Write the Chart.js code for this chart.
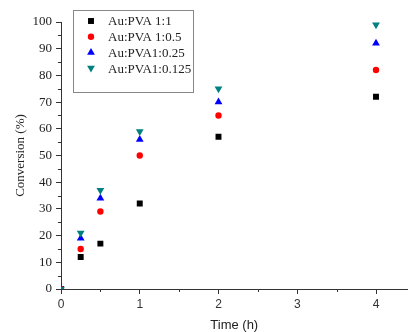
<!DOCTYPE html>
<html>
<head>
<meta charset="utf-8">
<script src="https://cdn.jsdelivr.net/npm/chart.js@4/dist/chart.umd.min.js"></script>
<style>
  html, body { margin: 0; padding: 0; background: #fff; }
  #wrap { width: 412px; height: 332px; }
</style>
</head>
<body>
<div id="wrap"><canvas id="c" width="412" height="332"></canvas></div>
<script>
// tiempos (h) y conversión (%) por muestra
const times = [0, 0.25, 0.5, 1, 2, 4];
const seriesNames = ['Au:PVA 1:1', 'Au:PVA 1:0.5', 'Au:PVA1:0.25', 'Au:PVA1:0.125'];
const pva1 = [0, 12, 17, 32, 57, 72];
const pva05 = [0, 15, 29, 50, 65, 82];
const pva025 = [0, 19, 34, 56, 70, 92];
const pva0125 = [0, 21, 37, 59, 75, 99];
const xTicks = [0, 1, 2, 3, 4];
const xMinor = [0.5, 1.5, 2.5, 3.5];
const yTicks = [0, 10, 20, 30, 40, 50, 60, 70, 80, 90, 100];
const yMinor = [5, 15, 25, 35, 45, 55, 65, 75, 85, 95];

const toPts = vals => vals.map((v, i) => ({ x: times[i], y: v }));

const styles = [
  { color: '#000000', style: 'rect', r: 4.2 },
  { color: '#ff0000', style: 'circle', r: 3.2 },
  { color: '#0000ff', style: 'triangle', r: 4.5 },
  { color: '#008080', style: 'triangle', r: 4.5, rotation: 180 }
];

const datasets = [pva1, pva05, pva025, pva0125].map((vals, i) => ({
  label: seriesNames[i],
  data: toPts(vals),
  order: 3 - i, // la última serie queda encima
  showLine: false,
  pointStyle: styles[i].style,
  rotation: styles[i].rotation || 0,
  pointRadius: styles[i].r,
  backgroundColor: styles[i].color,
  borderColor: styles[i].color,
  borderWidth: 0
}));

// ticks menores y leyenda dentro del área
const extras = {
  id: 'extras',
  afterDraw(chart) {
    const ctx = chart.ctx;
    const xs = chart.scales.x, ys = chart.scales.y;
    ctx.save();
    ctx.strokeStyle = '#333';
    ctx.lineWidth = 1;
    ctx.beginPath();
    yMinor.forEach(v => {
      const p = Math.round(ys.getPixelForValue(v)) + 0.5;
      ctx.moveTo(xs.left - 3, p);
      ctx.lineTo(xs.left, p);
    });
    xMinor.forEach(v => {
      const p = Math.round(xs.getPixelForValue(v)) + 0.5;
      ctx.moveTo(p, ys.bottom);
      ctx.lineTo(p, ys.bottom + 3);
    });
    ctx.stroke();

    // caja de leyenda
    const bx = 73.5, by = 10.5, bw = 120, bh = 82;
    ctx.strokeStyle = '#888';
    ctx.strokeRect(bx, by, bw, bh);
    ctx.font = '13px "Liberation Serif", serif';
    ctx.textBaseline = 'middle';
    ctx.fillStyle = '#222';
    chart.data.datasets.forEach((ds, i) => {
      const cy = 21 + i * 15.7;
      ctx.save();
      ctx.fillStyle = ds.backgroundColor;
      ctx.strokeStyle = ds.borderColor;
      Chart.helpers.drawPoint(ctx, {
        pointStyle: ds.pointStyle,
        rotation: ds.rotation,
        radius: ds.pointRadius,
        borderWidth: 0
      }, 91, cy);
      ctx.restore();
      ctx.fillText(ds.label, 108, cy + 1);
    });
    ctx.restore();
  }
};

new Chart(document.getElementById('c'), {
  type: 'scatter',
  data: { datasets },
  options: {
    responsive: false,
    animation: false,
    layout: { padding: { top: 22, right: 0, left: 0, bottom: 0 } },
    plugins: {
      legend: { display: false },
      tooltip: { enabled: false }
    },
    scales: {
      x: {
        type: 'linear',
        min: 0,
        max: 4.4,
        afterBuildTicks: s => { s.ticks = xTicks.map(v => ({ value: v })); },
        afterFit: s => { s.height = 43; },
        border: { display: true, color: '#333', width: 1 },
        grid: { drawOnChartArea: false, drawTicks: true, tickLength: 5, color: '#333' },
        ticks: {
          padding: 3,
          color: '#333',
          font: { family: '"Liberation Sans", Arial, sans-serif', size: 12 }
        },
        title: {
          display: true,
          text: 'Time (h)',
          color: '#222',
          padding: { top: 0, bottom: 0 },
          font: { family: '"Liberation Sans", Arial, sans-serif', size: 13, lineHeight: 1 }
        }
      },
      y: {
        type: 'linear',
        min: 0,
        max: 100,
        afterBuildTicks: s => { s.ticks = yTicks.map(v => ({ value: v })); },
        afterFit: s => { s.width = 61; },
        border: { display: true, color: '#333', width: 1 },
        grid: { drawOnChartArea: false, drawTicks: true, tickLength: 5, color: '#333' },
        ticks: {
          padding: 4,
          color: '#222',
          font: { family: '"Liberation Serif", "Times New Roman", serif', size: 13 }
        },
        title: {
          display: true,
          text: 'Conversion (%)',
          color: '#222',
          padding: { top: 14, bottom: 0 },
          font: { family: '"Liberation Serif", "Times New Roman", serif', size: 13, lineHeight: 1 }
        }
      }
    }
  },
  plugins: [extras]
});
</script>
</body>
</html>
